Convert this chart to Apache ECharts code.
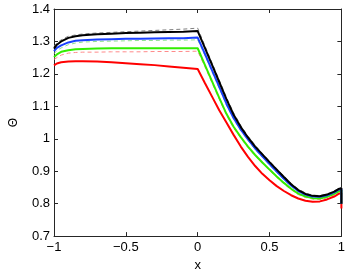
<!DOCTYPE html>
<html><head><meta charset="utf-8">
<script src="https://cdn.jsdelivr.net/npm/echarts@6/dist/echarts.min.js"></script>
<style>html,body{margin:0;padding:0;background:#fff}#c{width:348px;height:277px}</style>
</head><body><div id="c"></div>
<script>
const xs = [-1,-0.98,-0.95,-0.9,-0.85,-0.8,-0.7,-0.6,-0.5,-0.4,-0.3,-0.2,-0.1,0,0.05,0.1,0.15,0.2,0.25,0.3,0.35,0.4,0.45,0.5,0.55,0.6,0.65,0.7,0.75,0.8,0.85,0.9,0.95,0.98,1,1];
const black = [1.278,1.29,1.300,1.311,1.316,1.319,1.322,1.324,1.326,1.327,1.328,1.329,1.330,1.332,1.28,1.228,1.175,1.122,1.074,1.036,1.004,0.976,0.952,0.928,0.905,0.882,0.860,0.842,0.830,0.824,0.823,0.828,0.837,0.845,0.848,0.80];
const blue = [1.270,1.28,1.288,1.297,1.302,1.304,1.306,1.307,1.308,1.308,1.309,1.310,1.310,1.312,1.262,1.211,1.16,1.108,1.064,1.028,0.998,0.970,0.946,0.922,0.899,0.877,0.856,0.839,0.828,0.822,0.821,0.826,0.835,0.843,0.846,0.80];
const green = [1.252,1.26,1.268,1.273,1.276,1.277,1.278,1.279,1.279,1.279,1.279,1.279,1.279,1.279,1.228,1.177,1.126,1.077,1.037,1.005,0.976,0.950,0.927,0.905,0.884,0.864,0.846,0.831,0.822,0.817,0.816,0.821,0.830,0.838,0.842,0.80];
const red = [1.226,1.232,1.236,1.238,1.239,1.239,1.238,1.236,1.233,1.230,1.227,1.223,1.219,1.215,1.172,1.130,1.088,1.050,1.012,0.976,0.944,0.916,0.892,0.872,0.854,0.839,0.826,0.816,0.809,0.806,0.807,0.813,0.822,0.830,0.833,0.785];
const blackDash = [1.285,1.295,1.305,1.316,1.320,1.323,1.326,1.328,1.330,1.332,1.334,1.336,1.338,1.341,1.287,1.234,1.181,1.128,1.080,1.041,1.008,0.980,0.955,0.931,0.908,0.885,0.863,0.845,0.833,0.826,0.825,0.830,0.839,0.847,0.85,0.80];
const greenDash = [1.262,1.272,1.28,1.29,1.295,1.298,1.300,1.301,1.302,1.303,1.303,1.304,1.304,1.305,1.257,1.206,1.155,1.104,1.06,1.025,0.995,0.967,0.943,0.919,0.896,0.874,0.853,0.836,0.825,0.819,0.818,0.823,0.832,0.840,0.843,0.80];
const redDash = [1.245,1.25,1.258,1.264,1.266,1.267,1.267,1.268,1.268,1.268,1.269,1.269,1.269,1.270,1.222,1.172,1.122,1.073,1.033,1.002,0.973,0.947,0.924,0.902,0.881,0.861,0.843,0.828,0.819,0.814,0.813,0.818,0.827,0.835,0.839,0.80];
const xTicks = {'-1':'\u22121','-0.5':'\u22120.5','0':'0','0.5':'0.5','1':'1'};

const pts = ys => xs.map((x,i)=>[x, ys[i]]);
const font = 'Liberation Sans, Arial, sans-serif';
const axLine = {show:true, onZero:false, lineStyle:{color:'#262626', width:1}};
const tick = {show:true, inside:true, length:4, lineStyle:{color:'#262626'}};
function line(ys, color, width, dashed, z){
  return {type:'line', data:pts(ys), symbol:'none', animation:false, z:z,
    lineStyle:{color:color, width:width, type: dashed ? [4,3] : 'solid'}};
}
const chart = echarts.init(document.getElementById('c'), null, {renderer:'canvas'});
chart.setOption({
  animation:false,
  grid:{left:42, right:6, top:9, bottom:32},
  xAxis:[
    {type:'value', min:-1, max:1, interval:0.5, position:'bottom',
     axisLine:axLine, axisTick:tick, splitLine:{show:false},
     axisLabel:{color:'#000', fontFamily:font, fontSize:13, margin:5,
       formatter:v=>xTicks[String(v)] ?? String(v)},
     name:'x', nameLocation:'middle', nameGap:20,
     nameTextStyle:{color:'#000', fontFamily:font, fontSize:13}},
    {type:'value', min:-1, max:1, interval:0.5, position:'top',
     axisLine:axLine, axisTick:tick, axisLabel:{show:false}, splitLine:{show:false}}
  ],
  yAxis:[
    {type:'value', min:0.7, max:1.4, interval:0.1, position:'left',
     axisLine:axLine, axisTick:tick, splitLine:{show:false},
     axisLabel:{color:'#000', fontFamily:font, fontSize:13, margin:4,
       formatter:v=>String(Math.round(v*10)/10)},
     name:'\u0398', nameLocation:'middle', nameGap:34, nameRotate:90,
     nameTextStyle:{color:'#000', fontFamily:font, fontSize:12}},
    {type:'value', min:0.7, max:1.4, interval:0.1, position:'right',
     axisLine:axLine, axisTick:tick, axisLabel:{show:false}, splitLine:{show:false}}
  ],
  series:[
    line(redDash, '#ff8a8a', 1, true, 1),
    line(greenDash, '#8fe08f', 1, true, 1),
    line(blackDash, '#808080', 1, true, 1),
    line(red, '#ff0000', 2, false, 2),
    line(green, '#33ee00', 2, false, 2),
    line(blue, '#1a40ff', 2, false, 2),
    line(black, '#000000', 2, false, 2)
  ]
});
</script></body></html>
